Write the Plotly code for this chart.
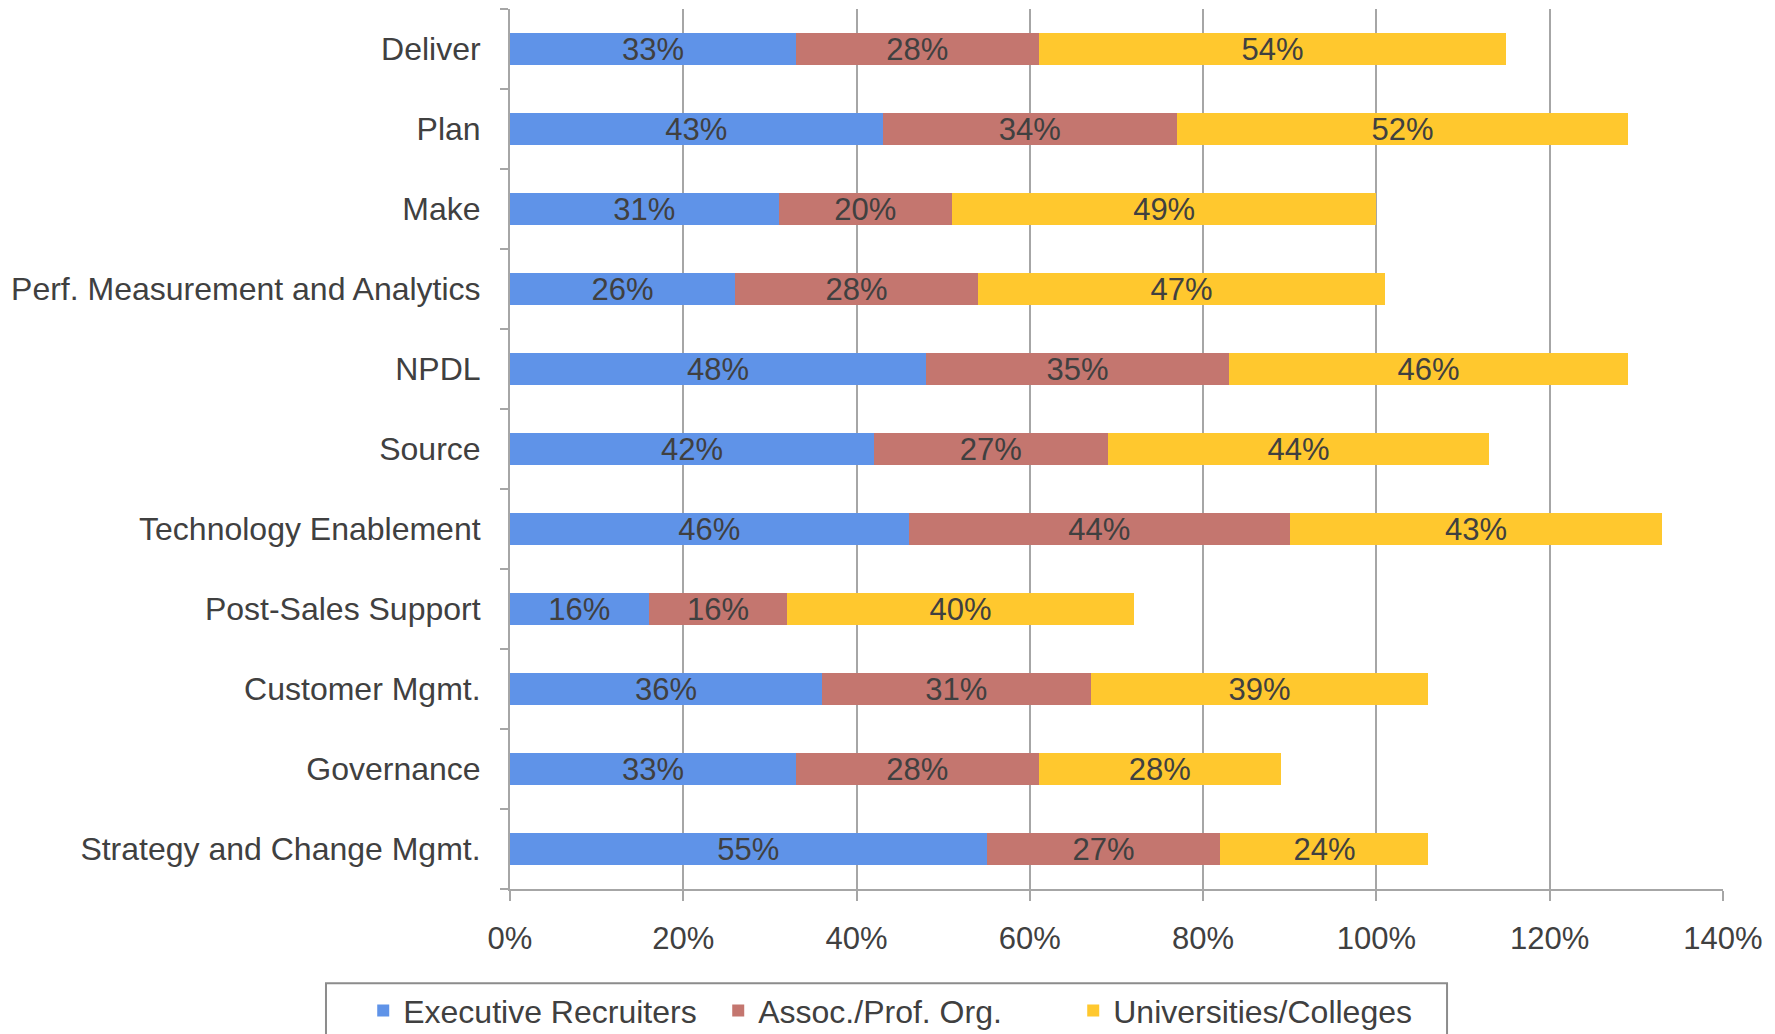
import plotly.graph_objects as go

# categories top to bottom as in the chart
categories = [
    "Deliver", "Plan", "Make", "Perf. Measurement and Analytics", "NPDL",
    "Source", "Technology Enablement", "Post-Sales Support",
    "Customer Mgmt.", "Governance", "Strategy and Change Mgmt.",
]
exec_recruiters = [33, 43, 31, 26, 48, 42, 46, 16, 36, 33, 55]
assoc_prof_org = [28, 34, 20, 28, 35, 27, 44, 16, 31, 28, 27]
universities = [54, 52, 49, 47, 46, 44, 43, 40, 39, 28, 24]
x_ticks = [0, 20, 40, 60, 80, 100, 120, 140]

series = [
    ("Executive Recruiters", exec_recruiters, "#5f93e8"),
    ("Assoc./Prof. Org.", assoc_prof_org, "#c4766f"),
    ("Universities/Colleges", universities, "#ffc82e"),
]

FONT = "Liberation Sans, Arial, sans-serif"
GREY = "#a6a6a6"
TEXT = "#404040"

fig = go.Figure()
for name, vals, color in series:
    fig.add_trace(go.Bar(
        y=categories,
        x=[v / 100 for v in vals],
        name=name,
        orientation="h",
        marker=dict(color=color, line=dict(width=0)),
        width=0.41,
        text=[f"{v}%" for v in vals],
        textposition="inside",
        insidetextanchor="middle",
        textfont=dict(color=TEXT, size=31, family=FONT),
        constraintext="none",
    ))

# page body has an 8px margin, so the margins are trimmed by that much
fig.update_layout(
    barmode="stack",
    width=1775,
    height=1034,
    margin=dict(l=502, r=60, t=1, b=153, autoexpand=False),
    plot_bgcolor="white",
    paper_bgcolor="white",
    font=dict(family=FONT, size=32, color=TEXT),
    uniformtext=dict(minsize=31, mode="show"),
    legend=dict(
        orientation="h",
        x=-0.121, xanchor="left",
        y=-0.107, yanchor="top",
        borderwidth=0,
        bgcolor="rgba(0,0,0,0)",
        font=dict(size=32, color=TEXT),
        itemwidth=30,
        entrywidth=310, entrywidthmode="pixels",
        traceorder="normal",
    ),
    # legend frame, open at the bottom edge as in the original
    shapes=[dict(
        type="rect", xref="paper", yref="paper",
        x0=-0.1517, x1=0.7725, y0=-0.107, y1=-0.25,
        line=dict(color="#8c8c8c", width=2),
        fillcolor="rgba(0,0,0,0)",
    )],
)

fig.update_xaxes(
    range=[0, 1.4],
    tickvals=[t / 100 for t in x_ticks],
    ticktext=[f"{t}%" for t in x_ticks],
    showgrid=True, gridcolor=GREY, gridwidth=2,
    showline=True, linecolor=GREY, linewidth=2,
    ticks="outside", ticklen=10, tickcolor=GREY, tickwidth=2,
    ticklabelstandoff=11,
    tickfont=dict(size=31),
    zeroline=False,
    automargin=False,
)
fig.update_yaxes(
    categoryorder="array",
    categoryarray=categories[::-1],
    range=[-0.5, 10.5],
    showgrid=False,
    showline=True, linecolor=GREY, linewidth=2,
    ticks="outside", tickson="boundaries", ticklen=8, tickcolor=GREY, tickwidth=2,
    ticklabelstandoff=21,
    automargin=False,
)

fig.write_html("out.html")
